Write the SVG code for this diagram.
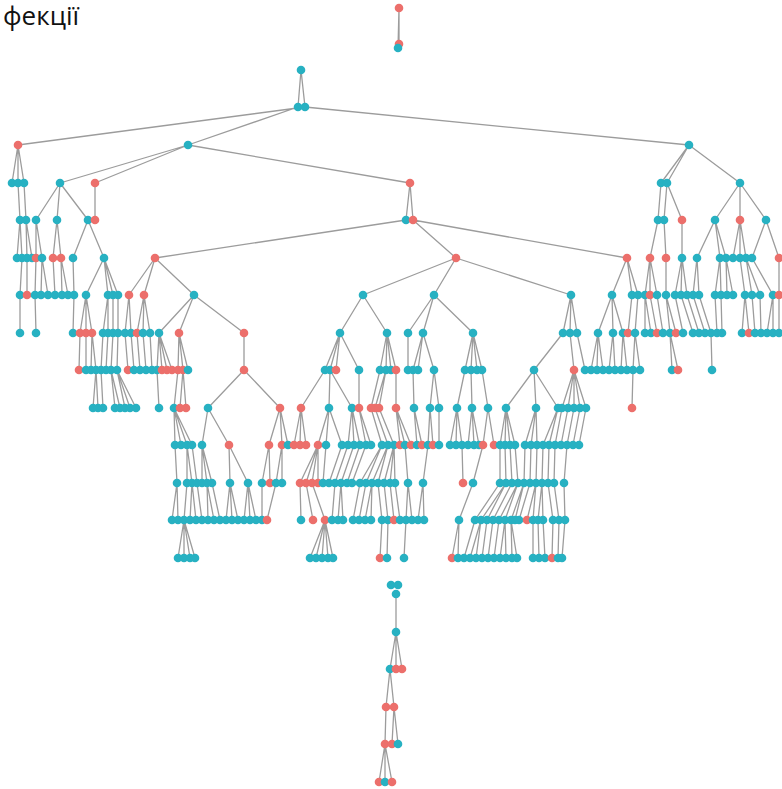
<svg xmlns="http://www.w3.org/2000/svg" width="782" height="789" viewBox="0 0 782 789">
<style>
.e path{stroke:#9c9c9c;stroke-width:1.3;fill:none}
.t{fill:#27b1c2}
.s{fill:#ec6f6b}
.title{font-family:"Open Sans","Noto Sans",sans-serif;font-size:26px;fill:#111}
</style>
<rect width="782" height="789" fill="#fff"/>
<text class="title" x="3" y="25">фекції</text>
<g class="e" id="connectors">
<path d="M399 8L399 44M399 8L398 48"/>
<path d="M301 70L298 107M301 70L305 107"/>
<path d="M305 107L18 145M298 107L188 145M305 107L689 145"/>
<path d="M18 145L12 183M18 145L18 183M18 145L24 183M188 145L60 183M188 145L95 183M188 145L410 183M689 145L661 183M689 145L667 183M689 145L740 183"/>
<path d="M18 183L20 220M24 183L26 220M60 183L36 220M60 183L57 220M60 183L88 220M95 183L95 220M410 183L406 220M410 183L413 220M661 183L658 220M667 183L664 220M667 183L682 220M740 183L715 220M740 183L740 220M740 183L766 220"/>
<path d="M20 220L17 258M20 220L22 258M26 220L27 258M26 220L32 258M36 220L36 258M36 220L42 258M57 220L53 258M57 220L61 258M88 220L73 258M88 220L104 258M406 220L155 258M413 220L456 258M413 220L627 258M658 220L650 258M664 220L666 258M682 220L682 258M715 220L697 258M715 220L720 258M715 220L726 258M740 220L733 258M740 220L740 258M740 220L746 258M766 220L752 258M766 220L779 258"/>
<path d="M22 258L20 295M27 258L27 295M36 258L35 295M42 258L41 295M42 258L48 295M53 258L55 295M61 258L62 295M61 258L68 295M73 258L74 295M104 258L86 295M104 258L108 295M104 258L113 295M104 258L118 295M155 258L129 295M155 258L144 295M155 258L194 295M456 258L363 295M456 258L434 295M456 258L571 295M627 258L612 295M627 258L632 295M627 258L638 295M650 258L645 295M650 258L650 295M650 258L657 295M666 258L666 295M682 258L675 295M682 258L681 295M682 258L687 295M697 258L693 295M697 258L699 295M720 258L715 295M720 258L721 295M726 258L727 295M726 258L733 295M740 258L745 295M746 258L752 295M746 258L760 295M752 258L773 295M779 258L779 295"/>
<path d="M20 295L20 333M35 295L36 333M74 295L73 333M86 295L80 333M86 295L86 333M86 295L92 333M108 295L103 333M108 295L108 333M113 295L113 333M118 295L118 333M129 295L125 333M129 295L131 333M144 295L137 333M144 295L143 333M144 295L150 333M194 295L159 333M194 295L179 333M194 295L244 333M363 295L340 333M363 295L387 333M434 295L408 333M434 295L423 333M434 295L473 333M571 295L563 333M571 295L570 333M571 295L577 333M612 295L598 333M612 295L613 333M612 295L623 333M632 295L628 333M638 295L635 333M645 295L645 333M645 295L651 333M650 295L657 333M657 295L663 333M666 295L670 333M666 295L676 333M675 295L683 333M681 295L693 333M687 295L699 333M693 295L705 333M699 295L711 333M715 295L717 333M721 295L722 333M745 295L742 333M745 295L749 333M752 295L755 333M760 295L761 333M773 295L767 333M773 295L773 333M779 295L779 333"/>
<path d="M80 333L79 370M86 333L86 370M92 333L91 370M92 333L96 370M103 333L101 370M108 333L106 370M113 333L111 370M118 333L117 370M125 333L128 370M131 333L134 370M137 333L140 370M143 333L146 370M150 333L152 370M159 333L157 370M159 333L162 370M159 333L167 370M159 333L172 370M179 333L178 370M179 333L183 370M179 333L188 370M244 333L244 370M340 333L325 370M340 333L330 370M340 333L336 370M340 333L359 370M387 333L380 370M387 333L386 370M387 333L391 370M387 333L396 370M408 333L408 370M423 333L413 370M423 333L418 370M423 333L434 370M473 333L465 370M473 333L471 370M473 333L477 370M473 333L482 370M563 333L534 370M570 333L574 370M577 333L585 370M598 333L591 370M598 333L597 370M598 333L603 370M613 333L609 370M613 333L615 370M623 333L621 370M623 333L627 370M635 333L633 370M635 333L640 370M670 333L672 370M670 333L678 370M711 333L712 370"/>
<path d="M96 370L93 408M96 370L98 408M101 370L103 408M111 370L115 408M111 370L120 408M117 370L125 408M117 370L130 408M117 370L136 408M157 370L159 408M178 370L174 408M183 370L180 408M183 370L186 408M244 370L208 408M244 370L280 408M325 370L301 408M330 370L329 408M330 370L352 408M359 370L359 408M380 370L371 408M386 370L375 408M386 370L379 408M396 370L396 408M413 370L414 408M434 370L430 408M434 370L439 408M465 370L457 408M471 370L472 408M482 370L488 408M534 370L506 408M534 370L536 408M534 370L558 408M574 370L562 408M574 370L568 408M574 370L574 408M574 370L580 408M574 370L586 408M633 370L632 408"/>
<path d="M174 408L175 445M174 408L181 445M174 408L187 445M174 408L192 445M208 408L202 445M208 408L229 445M280 408L269 445M280 408L282 445M280 408L288 445M301 408L294 445M301 408L300 445M301 408L306 445M329 408L318 445M329 408L326 445M329 408L342 445M352 408L348 445M352 408L354 445M352 408L360 445M359 408L366 445M359 408L371 445M371 408L382 445M375 408L388 445M379 408L394 445M396 408L400 445M396 408L405 445M396 408L411 445M414 408L417 445M414 408L422 445M430 408L428 445M430 408L433 445M439 408L439 445M457 408L450 445M457 408L456 445M457 408L462 445M472 408L468 445M472 408L474 445M472 408L479 445M488 408L483 445M488 408L494 445M506 408L500 445M506 408L505 445M506 408L510 445M506 408L515 445M536 408L525 445M536 408L531 445M536 408L537 445M558 408L543 445M558 408L549 445M562 408L555 445M568 408L561 445M574 408L567 445M580 408L573 445M586 408L579 445"/>
<path d="M175 445L177 483M187 445L187 483M187 445L192 483M192 445L197 483M202 445L202 483M202 445L207 483M202 445L212 483M229 445L230 483M229 445L248 483M269 445L262 483M269 445L270 483M282 445L276 483M282 445L282 483M318 445L300 483M318 445L306 483M318 445L312 483M318 445L318 483M326 445L323 483M342 445L329 483M348 445L335 483M354 445L341 483M360 445L347 483M366 445L352 483M382 445L360 483M382 445L366 483M388 445L372 483M388 445L378 483M394 445L384 483M394 445L390 483M394 445L395 483M405 445L408 483M428 445L423 483M462 445L463 483M483 445L473 483M500 445L500 483M505 445L506 483M510 445L512 483M515 445L518 483M525 445L524 483M531 445L530 483M537 445L536 483M543 445L542 483M549 445L548 483M555 445L554 483M567 445L564 483"/>
<path d="M177 483L172 520M177 483L178 520M187 483L184 520M192 483L190 520M192 483L196 520M197 483L202 520M207 483L208 520M207 483L214 520M212 483L220 520M230 483L226 520M230 483L232 520M230 483L238 520M248 483L244 520M248 483L250 520M248 483L256 520M262 483L262 520M276 483L267 520M300 483L301 520M306 483L313 520M312 483L325 520M335 483L332 520M341 483L338 520M341 483L343 520M360 483L353 520M366 483L359 520M372 483L365 520M372 483L371 520M378 483L382 520M384 483L388 520M390 483L394 520M395 483L400 520M408 483L406 520M408 483L412 520M423 483L418 520M423 483L424 520M473 483L459 520M500 483L475 520M506 483L481 520M506 483L487 520M512 483L493 520M518 483L499 520M518 483L505 520M524 483L511 520M524 483L515 520M530 483L519 520M536 483L527 520M536 483L533 520M542 483L538 520M542 483L543 520M548 483L553 520M554 483L559 520M564 483L565 520"/>
<path d="M184 520L178 558M184 520L184 558M184 520L190 558M184 520L195 558M325 520L310 558M325 520L316 558M325 520L322 558M325 520L328 558M325 520L333 558M382 520L380 558M388 520L387 558M406 520L404 558M459 520L452 558M459 520L458 558M475 520L464 558M481 520L470 558M481 520L476 558M487 520L482 558M493 520L488 558M499 520L494 558M505 520L500 558M505 520L506 558M511 520L512 558M511 520L517 558M533 520L533 558M538 520L539 558M543 520L545 558M553 520L552 558M559 520L558 558M565 520L562 558"/>
<path d="M396 594L396 632M396 632L390 669M396 632L396 669M396 632L402 669M390 669L386 707M390 669L394 707M386 707L385 744M394 707L392 744M394 707L398 744M385 744L379 782M385 744L385 782M385 744L392 782"/>
</g>
<g id="nodes">
<g id="n8-399"><circle class="s" cx="399" cy="8" r="4.3"/></g>
<g id="n44-399"><circle class="s" cx="399" cy="44" r="4.3"/></g>
<g id="n48-398"><circle class="t" cx="398" cy="48" r="4.3"/></g>
<g id="n70-301"><circle class="t" cx="301" cy="70" r="4.3"/></g>
<g id="n107-298"><circle class="t" cx="298" cy="107" r="4.3"/></g>
<g id="n107-305"><circle class="t" cx="305" cy="107" r="4.3"/></g>
<g id="n145-18"><circle class="s" cx="18" cy="145" r="4.3"/></g>
<g id="n145-188"><circle class="t" cx="188" cy="145" r="4.3"/></g>
<g id="n145-689"><circle class="t" cx="689" cy="145" r="4.3"/></g>
<g id="n183-12"><circle class="t" cx="12" cy="183" r="4.3"/></g>
<g id="n183-18"><circle class="t" cx="18" cy="183" r="4.3"/></g>
<g id="n183-24"><circle class="t" cx="24" cy="183" r="4.3"/></g>
<g id="n183-60"><circle class="t" cx="60" cy="183" r="4.3"/></g>
<g id="n183-95"><circle class="s" cx="95" cy="183" r="4.3"/></g>
<g id="n183-410"><circle class="s" cx="410" cy="183" r="4.3"/></g>
<g id="n183-661"><circle class="t" cx="661" cy="183" r="4.3"/></g>
<g id="n183-667"><circle class="t" cx="667" cy="183" r="4.3"/></g>
<g id="n183-740"><circle class="t" cx="740" cy="183" r="4.3"/></g>
<g id="n220-20"><circle class="t" cx="20" cy="220" r="4.3"/></g>
<g id="n220-26"><circle class="t" cx="26" cy="220" r="4.3"/></g>
<g id="n220-36"><circle class="t" cx="36" cy="220" r="4.3"/></g>
<g id="n220-57"><circle class="t" cx="57" cy="220" r="4.3"/></g>
<g id="n220-88"><circle class="t" cx="88" cy="220" r="4.3"/></g>
<g id="n220-95"><circle class="s" cx="95" cy="220" r="4.3"/></g>
<g id="n220-406"><circle class="t" cx="406" cy="220" r="4.3"/></g>
<g id="n220-413"><circle class="s" cx="413" cy="220" r="4.3"/></g>
<g id="n220-658"><circle class="t" cx="658" cy="220" r="4.3"/></g>
<g id="n220-664"><circle class="t" cx="664" cy="220" r="4.3"/></g>
<g id="n220-682"><circle class="s" cx="682" cy="220" r="4.3"/></g>
<g id="n220-715"><circle class="t" cx="715" cy="220" r="4.3"/></g>
<g id="n220-740"><circle class="s" cx="740" cy="220" r="4.3"/></g>
<g id="n220-766"><circle class="t" cx="766" cy="220" r="4.3"/></g>
<g id="n258-17"><circle class="t" cx="17" cy="258" r="4.3"/></g>
<g id="n258-22"><circle class="t" cx="22" cy="258" r="4.3"/></g>
<g id="n258-27"><circle class="t" cx="27" cy="258" r="4.3"/></g>
<g id="n258-32"><circle class="t" cx="32" cy="258" r="4.3"/></g>
<g id="n258-36"><circle class="s" cx="36" cy="258" r="4.3"/></g>
<g id="n258-42"><circle class="t" cx="42" cy="258" r="4.3"/></g>
<g id="n258-53"><circle class="s" cx="53" cy="258" r="4.3"/></g>
<g id="n258-61"><circle class="s" cx="61" cy="258" r="4.3"/></g>
<g id="n258-73"><circle class="t" cx="73" cy="258" r="4.3"/></g>
<g id="n258-104"><circle class="t" cx="104" cy="258" r="4.3"/></g>
<g id="n258-155"><circle class="s" cx="155" cy="258" r="4.3"/></g>
<g id="n258-456"><circle class="s" cx="456" cy="258" r="4.3"/></g>
<g id="n258-627"><circle class="s" cx="627" cy="258" r="4.3"/></g>
<g id="n258-650"><circle class="s" cx="650" cy="258" r="4.3"/></g>
<g id="n258-666"><circle class="s" cx="666" cy="258" r="4.3"/></g>
<g id="n258-682"><circle class="t" cx="682" cy="258" r="4.3"/></g>
<g id="n258-697"><circle class="t" cx="697" cy="258" r="4.3"/></g>
<g id="n258-720"><circle class="t" cx="720" cy="258" r="4.3"/></g>
<g id="n258-726"><circle class="t" cx="726" cy="258" r="4.3"/></g>
<g id="n258-733"><circle class="t" cx="733" cy="258" r="4.3"/></g>
<g id="n258-740"><circle class="t" cx="740" cy="258" r="4.3"/></g>
<g id="n258-746"><circle class="t" cx="746" cy="258" r="4.3"/></g>
<g id="n258-752"><circle class="t" cx="752" cy="258" r="4.3"/></g>
<g id="n258-779"><circle class="s" cx="779" cy="258" r="4.3"/></g>
<g id="n295-20"><circle class="t" cx="20" cy="295" r="4.3"/></g>
<g id="n295-27"><circle class="s" cx="27" cy="295" r="4.3"/></g>
<g id="n295-35"><circle class="t" cx="35" cy="295" r="4.3"/></g>
<g id="n295-41"><circle class="t" cx="41" cy="295" r="4.3"/></g>
<g id="n295-48"><circle class="t" cx="48" cy="295" r="4.3"/></g>
<g id="n295-55"><circle class="t" cx="55" cy="295" r="4.3"/></g>
<g id="n295-62"><circle class="t" cx="62" cy="295" r="4.3"/></g>
<g id="n295-68"><circle class="t" cx="68" cy="295" r="4.3"/></g>
<g id="n295-74"><circle class="t" cx="74" cy="295" r="4.3"/></g>
<g id="n295-86"><circle class="t" cx="86" cy="295" r="4.3"/></g>
<g id="n295-108"><circle class="t" cx="108" cy="295" r="4.3"/></g>
<g id="n295-113"><circle class="t" cx="113" cy="295" r="4.3"/></g>
<g id="n295-118"><circle class="t" cx="118" cy="295" r="4.3"/></g>
<g id="n295-129"><circle class="s" cx="129" cy="295" r="4.3"/></g>
<g id="n295-144"><circle class="s" cx="144" cy="295" r="4.3"/></g>
<g id="n295-194"><circle class="t" cx="194" cy="295" r="4.3"/></g>
<g id="n295-363"><circle class="t" cx="363" cy="295" r="4.3"/></g>
<g id="n295-434"><circle class="t" cx="434" cy="295" r="4.3"/></g>
<g id="n295-571"><circle class="t" cx="571" cy="295" r="4.3"/></g>
<g id="n295-612"><circle class="t" cx="612" cy="295" r="4.3"/></g>
<g id="n295-632"><circle class="t" cx="632" cy="295" r="4.3"/></g>
<g id="n295-638"><circle class="t" cx="638" cy="295" r="4.3"/></g>
<g id="n295-645"><circle class="t" cx="645" cy="295" r="4.3"/></g>
<g id="n295-650"><circle class="s" cx="650" cy="295" r="4.3"/></g>
<g id="n295-657"><circle class="t" cx="657" cy="295" r="4.3"/></g>
<g id="n295-666"><circle class="t" cx="666" cy="295" r="4.3"/></g>
<g id="n295-675"><circle class="t" cx="675" cy="295" r="4.3"/></g>
<g id="n295-681"><circle class="t" cx="681" cy="295" r="4.3"/></g>
<g id="n295-687"><circle class="t" cx="687" cy="295" r="4.3"/></g>
<g id="n295-693"><circle class="t" cx="693" cy="295" r="4.3"/></g>
<g id="n295-699"><circle class="t" cx="699" cy="295" r="4.3"/></g>
<g id="n295-715"><circle class="t" cx="715" cy="295" r="4.3"/></g>
<g id="n295-721"><circle class="t" cx="721" cy="295" r="4.3"/></g>
<g id="n295-727"><circle class="t" cx="727" cy="295" r="4.3"/></g>
<g id="n295-733"><circle class="t" cx="733" cy="295" r="4.3"/></g>
<g id="n295-745"><circle class="t" cx="745" cy="295" r="4.3"/></g>
<g id="n295-752"><circle class="t" cx="752" cy="295" r="4.3"/></g>
<g id="n295-760"><circle class="t" cx="760" cy="295" r="4.3"/></g>
<g id="n295-773"><circle class="t" cx="773" cy="295" r="4.3"/></g>
<g id="n295-779"><circle class="s" cx="779" cy="295" r="4.3"/></g>
<g id="n333-20"><circle class="t" cx="20" cy="333" r="4.3"/></g>
<g id="n333-36"><circle class="t" cx="36" cy="333" r="4.3"/></g>
<g id="n333-73"><circle class="t" cx="73" cy="333" r="4.3"/></g>
<g id="n333-80"><circle class="s" cx="80" cy="333" r="4.3"/></g>
<g id="n333-86"><circle class="s" cx="86" cy="333" r="4.3"/></g>
<g id="n333-92"><circle class="s" cx="92" cy="333" r="4.3"/></g>
<g id="n333-103"><circle class="t" cx="103" cy="333" r="4.3"/></g>
<g id="n333-108"><circle class="t" cx="108" cy="333" r="4.3"/></g>
<g id="n333-113"><circle class="t" cx="113" cy="333" r="4.3"/></g>
<g id="n333-118"><circle class="t" cx="118" cy="333" r="4.3"/></g>
<g id="n333-125"><circle class="t" cx="125" cy="333" r="4.3"/></g>
<g id="n333-131"><circle class="t" cx="131" cy="333" r="4.3"/></g>
<g id="n333-137"><circle class="s" cx="137" cy="333" r="4.3"/></g>
<g id="n333-143"><circle class="t" cx="143" cy="333" r="4.3"/></g>
<g id="n333-150"><circle class="t" cx="150" cy="333" r="4.3"/></g>
<g id="n333-159"><circle class="t" cx="159" cy="333" r="4.3"/></g>
<g id="n333-179"><circle class="s" cx="179" cy="333" r="4.3"/></g>
<g id="n333-244"><circle class="s" cx="244" cy="333" r="4.3"/></g>
<g id="n333-340"><circle class="t" cx="340" cy="333" r="4.3"/></g>
<g id="n333-387"><circle class="t" cx="387" cy="333" r="4.3"/></g>
<g id="n333-408"><circle class="t" cx="408" cy="333" r="4.3"/></g>
<g id="n333-423"><circle class="t" cx="423" cy="333" r="4.3"/></g>
<g id="n333-473"><circle class="t" cx="473" cy="333" r="4.3"/></g>
<g id="n333-563"><circle class="t" cx="563" cy="333" r="4.3"/></g>
<g id="n333-570"><circle class="t" cx="570" cy="333" r="4.3"/></g>
<g id="n333-577"><circle class="t" cx="577" cy="333" r="4.3"/></g>
<g id="n333-598"><circle class="t" cx="598" cy="333" r="4.3"/></g>
<g id="n333-613"><circle class="t" cx="613" cy="333" r="4.3"/></g>
<g id="n333-623"><circle class="t" cx="623" cy="333" r="4.3"/></g>
<g id="n333-628"><circle class="s" cx="628" cy="333" r="4.3"/></g>
<g id="n333-635"><circle class="t" cx="635" cy="333" r="4.3"/></g>
<g id="n333-645"><circle class="t" cx="645" cy="333" r="4.3"/></g>
<g id="n333-651"><circle class="t" cx="651" cy="333" r="4.3"/></g>
<g id="n333-657"><circle class="s" cx="657" cy="333" r="4.3"/></g>
<g id="n333-663"><circle class="t" cx="663" cy="333" r="4.3"/></g>
<g id="n333-670"><circle class="t" cx="670" cy="333" r="4.3"/></g>
<g id="n333-676"><circle class="s" cx="676" cy="333" r="4.3"/></g>
<g id="n333-683"><circle class="t" cx="683" cy="333" r="4.3"/></g>
<g id="n333-693"><circle class="t" cx="693" cy="333" r="4.3"/></g>
<g id="n333-699"><circle class="t" cx="699" cy="333" r="4.3"/></g>
<g id="n333-705"><circle class="t" cx="705" cy="333" r="4.3"/></g>
<g id="n333-711"><circle class="t" cx="711" cy="333" r="4.3"/></g>
<g id="n333-717"><circle class="t" cx="717" cy="333" r="4.3"/></g>
<g id="n333-722"><circle class="t" cx="722" cy="333" r="4.3"/></g>
<g id="n333-742"><circle class="t" cx="742" cy="333" r="4.3"/></g>
<g id="n333-749"><circle class="s" cx="749" cy="333" r="4.3"/></g>
<g id="n333-755"><circle class="t" cx="755" cy="333" r="4.3"/></g>
<g id="n333-761"><circle class="t" cx="761" cy="333" r="4.3"/></g>
<g id="n333-767"><circle class="t" cx="767" cy="333" r="4.3"/></g>
<g id="n333-773"><circle class="t" cx="773" cy="333" r="4.3"/></g>
<g id="n333-779"><circle class="t" cx="779" cy="333" r="4.3"/></g>
<g id="n370-79"><circle class="s" cx="79" cy="370" r="4.3"/></g>
<g id="n370-86"><circle class="t" cx="86" cy="370" r="4.3"/></g>
<g id="n370-91"><circle class="t" cx="91" cy="370" r="4.3"/></g>
<g id="n370-96"><circle class="t" cx="96" cy="370" r="4.3"/></g>
<g id="n370-101"><circle class="t" cx="101" cy="370" r="4.3"/></g>
<g id="n370-106"><circle class="t" cx="106" cy="370" r="4.3"/></g>
<g id="n370-111"><circle class="t" cx="111" cy="370" r="4.3"/></g>
<g id="n370-117"><circle class="t" cx="117" cy="370" r="4.3"/></g>
<g id="n370-128"><circle class="s" cx="128" cy="370" r="4.3"/></g>
<g id="n370-134"><circle class="t" cx="134" cy="370" r="4.3"/></g>
<g id="n370-140"><circle class="t" cx="140" cy="370" r="4.3"/></g>
<g id="n370-146"><circle class="t" cx="146" cy="370" r="4.3"/></g>
<g id="n370-152"><circle class="t" cx="152" cy="370" r="4.3"/></g>
<g id="n370-157"><circle class="t" cx="157" cy="370" r="4.3"/></g>
<g id="n370-162"><circle class="s" cx="162" cy="370" r="4.3"/></g>
<g id="n370-167"><circle class="s" cx="167" cy="370" r="4.3"/></g>
<g id="n370-172"><circle class="s" cx="172" cy="370" r="4.3"/></g>
<g id="n370-178"><circle class="s" cx="178" cy="370" r="4.3"/></g>
<g id="n370-183"><circle class="s" cx="183" cy="370" r="4.3"/></g>
<g id="n370-188"><circle class="t" cx="188" cy="370" r="4.3"/></g>
<g id="n370-244"><circle class="s" cx="244" cy="370" r="4.3"/></g>
<g id="n370-325"><circle class="t" cx="325" cy="370" r="4.3"/></g>
<g id="n370-330"><circle class="t" cx="330" cy="370" r="4.3"/></g>
<g id="n370-336"><circle class="s" cx="336" cy="370" r="4.3"/></g>
<g id="n370-359"><circle class="t" cx="359" cy="370" r="4.3"/></g>
<g id="n370-380"><circle class="t" cx="380" cy="370" r="4.3"/></g>
<g id="n370-386"><circle class="t" cx="386" cy="370" r="4.3"/></g>
<g id="n370-391"><circle class="t" cx="391" cy="370" r="4.3"/></g>
<g id="n370-396"><circle class="s" cx="396" cy="370" r="4.3"/></g>
<g id="n370-408"><circle class="t" cx="408" cy="370" r="4.3"/></g>
<g id="n370-413"><circle class="t" cx="413" cy="370" r="4.3"/></g>
<g id="n370-418"><circle class="t" cx="418" cy="370" r="4.3"/></g>
<g id="n370-434"><circle class="t" cx="434" cy="370" r="4.3"/></g>
<g id="n370-465"><circle class="t" cx="465" cy="370" r="4.3"/></g>
<g id="n370-471"><circle class="t" cx="471" cy="370" r="4.3"/></g>
<g id="n370-477"><circle class="t" cx="477" cy="370" r="4.3"/></g>
<g id="n370-482"><circle class="t" cx="482" cy="370" r="4.3"/></g>
<g id="n370-534"><circle class="t" cx="534" cy="370" r="4.3"/></g>
<g id="n370-574"><circle class="s" cx="574" cy="370" r="4.3"/></g>
<g id="n370-585"><circle class="t" cx="585" cy="370" r="4.3"/></g>
<g id="n370-591"><circle class="t" cx="591" cy="370" r="4.3"/></g>
<g id="n370-597"><circle class="t" cx="597" cy="370" r="4.3"/></g>
<g id="n370-603"><circle class="t" cx="603" cy="370" r="4.3"/></g>
<g id="n370-609"><circle class="t" cx="609" cy="370" r="4.3"/></g>
<g id="n370-615"><circle class="t" cx="615" cy="370" r="4.3"/></g>
<g id="n370-621"><circle class="t" cx="621" cy="370" r="4.3"/></g>
<g id="n370-627"><circle class="t" cx="627" cy="370" r="4.3"/></g>
<g id="n370-633"><circle class="t" cx="633" cy="370" r="4.3"/></g>
<g id="n370-640"><circle class="t" cx="640" cy="370" r="4.3"/></g>
<g id="n370-672"><circle class="t" cx="672" cy="370" r="4.3"/></g>
<g id="n370-678"><circle class="s" cx="678" cy="370" r="4.3"/></g>
<g id="n370-712"><circle class="t" cx="712" cy="370" r="4.3"/></g>
<g id="n408-93"><circle class="t" cx="93" cy="408" r="4.3"/></g>
<g id="n408-98"><circle class="t" cx="98" cy="408" r="4.3"/></g>
<g id="n408-103"><circle class="t" cx="103" cy="408" r="4.3"/></g>
<g id="n408-115"><circle class="t" cx="115" cy="408" r="4.3"/></g>
<g id="n408-120"><circle class="t" cx="120" cy="408" r="4.3"/></g>
<g id="n408-125"><circle class="t" cx="125" cy="408" r="4.3"/></g>
<g id="n408-130"><circle class="t" cx="130" cy="408" r="4.3"/></g>
<g id="n408-136"><circle class="t" cx="136" cy="408" r="4.3"/></g>
<g id="n408-159"><circle class="t" cx="159" cy="408" r="4.3"/></g>
<g id="n408-174"><circle class="t" cx="174" cy="408" r="4.3"/></g>
<g id="n408-180"><circle class="s" cx="180" cy="408" r="4.3"/></g>
<g id="n408-186"><circle class="s" cx="186" cy="408" r="4.3"/></g>
<g id="n408-208"><circle class="t" cx="208" cy="408" r="4.3"/></g>
<g id="n408-280"><circle class="s" cx="280" cy="408" r="4.3"/></g>
<g id="n408-301"><circle class="s" cx="301" cy="408" r="4.3"/></g>
<g id="n408-329"><circle class="t" cx="329" cy="408" r="4.3"/></g>
<g id="n408-352"><circle class="t" cx="352" cy="408" r="4.3"/></g>
<g id="n408-359"><circle class="s" cx="359" cy="408" r="4.3"/></g>
<g id="n408-371"><circle class="s" cx="371" cy="408" r="4.3"/></g>
<g id="n408-375"><circle class="s" cx="375" cy="408" r="4.3"/></g>
<g id="n408-379"><circle class="s" cx="379" cy="408" r="4.3"/></g>
<g id="n408-396"><circle class="s" cx="396" cy="408" r="4.3"/></g>
<g id="n408-414"><circle class="t" cx="414" cy="408" r="4.3"/></g>
<g id="n408-430"><circle class="t" cx="430" cy="408" r="4.3"/></g>
<g id="n408-439"><circle class="t" cx="439" cy="408" r="4.3"/></g>
<g id="n408-457"><circle class="t" cx="457" cy="408" r="4.3"/></g>
<g id="n408-472"><circle class="t" cx="472" cy="408" r="4.3"/></g>
<g id="n408-488"><circle class="t" cx="488" cy="408" r="4.3"/></g>
<g id="n408-506"><circle class="t" cx="506" cy="408" r="4.3"/></g>
<g id="n408-536"><circle class="t" cx="536" cy="408" r="4.3"/></g>
<g id="n408-558"><circle class="t" cx="558" cy="408" r="4.3"/></g>
<g id="n408-562"><circle class="t" cx="562" cy="408" r="4.3"/></g>
<g id="n408-568"><circle class="t" cx="568" cy="408" r="4.3"/></g>
<g id="n408-574"><circle class="t" cx="574" cy="408" r="4.3"/></g>
<g id="n408-580"><circle class="t" cx="580" cy="408" r="4.3"/></g>
<g id="n408-586"><circle class="t" cx="586" cy="408" r="4.3"/></g>
<g id="n408-632"><circle class="s" cx="632" cy="408" r="4.3"/></g>
<g id="n445-175"><circle class="t" cx="175" cy="445" r="4.3"/></g>
<g id="n445-181"><circle class="t" cx="181" cy="445" r="4.3"/></g>
<g id="n445-187"><circle class="t" cx="187" cy="445" r="4.3"/></g>
<g id="n445-192"><circle class="t" cx="192" cy="445" r="4.3"/></g>
<g id="n445-202"><circle class="t" cx="202" cy="445" r="4.3"/></g>
<g id="n445-229"><circle class="s" cx="229" cy="445" r="4.3"/></g>
<g id="n445-269"><circle class="s" cx="269" cy="445" r="4.3"/></g>
<g id="n445-282"><circle class="s" cx="282" cy="445" r="4.3"/></g>
<g id="n445-288"><circle class="t" cx="288" cy="445" r="4.3"/></g>
<g id="n445-294"><circle class="s" cx="294" cy="445" r="4.3"/></g>
<g id="n445-300"><circle class="s" cx="300" cy="445" r="4.3"/></g>
<g id="n445-306"><circle class="s" cx="306" cy="445" r="4.3"/></g>
<g id="n445-318"><circle class="s" cx="318" cy="445" r="4.3"/></g>
<g id="n445-326"><circle class="t" cx="326" cy="445" r="4.3"/></g>
<g id="n445-342"><circle class="t" cx="342" cy="445" r="4.3"/></g>
<g id="n445-348"><circle class="t" cx="348" cy="445" r="4.3"/></g>
<g id="n445-354"><circle class="t" cx="354" cy="445" r="4.3"/></g>
<g id="n445-360"><circle class="t" cx="360" cy="445" r="4.3"/></g>
<g id="n445-366"><circle class="t" cx="366" cy="445" r="4.3"/></g>
<g id="n445-371"><circle class="t" cx="371" cy="445" r="4.3"/></g>
<g id="n445-382"><circle class="t" cx="382" cy="445" r="4.3"/></g>
<g id="n445-388"><circle class="t" cx="388" cy="445" r="4.3"/></g>
<g id="n445-394"><circle class="t" cx="394" cy="445" r="4.3"/></g>
<g id="n445-400"><circle class="s" cx="400" cy="445" r="4.3"/></g>
<g id="n445-405"><circle class="t" cx="405" cy="445" r="4.3"/></g>
<g id="n445-411"><circle class="s" cx="411" cy="445" r="4.3"/></g>
<g id="n445-417"><circle class="t" cx="417" cy="445" r="4.3"/></g>
<g id="n445-422"><circle class="s" cx="422" cy="445" r="4.3"/></g>
<g id="n445-428"><circle class="t" cx="428" cy="445" r="4.3"/></g>
<g id="n445-433"><circle class="s" cx="433" cy="445" r="4.3"/></g>
<g id="n445-439"><circle class="t" cx="439" cy="445" r="4.3"/></g>
<g id="n445-450"><circle class="t" cx="450" cy="445" r="4.3"/></g>
<g id="n445-456"><circle class="t" cx="456" cy="445" r="4.3"/></g>
<g id="n445-462"><circle class="t" cx="462" cy="445" r="4.3"/></g>
<g id="n445-468"><circle class="t" cx="468" cy="445" r="4.3"/></g>
<g id="n445-474"><circle class="t" cx="474" cy="445" r="4.3"/></g>
<g id="n445-479"><circle class="t" cx="479" cy="445" r="4.3"/></g>
<g id="n445-483"><circle class="s" cx="483" cy="445" r="4.3"/></g>
<g id="n445-494"><circle class="s" cx="494" cy="445" r="4.3"/></g>
<g id="n445-500"><circle class="t" cx="500" cy="445" r="4.3"/></g>
<g id="n445-505"><circle class="t" cx="505" cy="445" r="4.3"/></g>
<g id="n445-510"><circle class="t" cx="510" cy="445" r="4.3"/></g>
<g id="n445-515"><circle class="t" cx="515" cy="445" r="4.3"/></g>
<g id="n445-525"><circle class="t" cx="525" cy="445" r="4.3"/></g>
<g id="n445-531"><circle class="t" cx="531" cy="445" r="4.3"/></g>
<g id="n445-537"><circle class="t" cx="537" cy="445" r="4.3"/></g>
<g id="n445-543"><circle class="t" cx="543" cy="445" r="4.3"/></g>
<g id="n445-549"><circle class="t" cx="549" cy="445" r="4.3"/></g>
<g id="n445-555"><circle class="t" cx="555" cy="445" r="4.3"/></g>
<g id="n445-561"><circle class="t" cx="561" cy="445" r="4.3"/></g>
<g id="n445-567"><circle class="t" cx="567" cy="445" r="4.3"/></g>
<g id="n445-573"><circle class="t" cx="573" cy="445" r="4.3"/></g>
<g id="n445-579"><circle class="t" cx="579" cy="445" r="4.3"/></g>
<g id="n483-177"><circle class="t" cx="177" cy="483" r="4.3"/></g>
<g id="n483-187"><circle class="t" cx="187" cy="483" r="4.3"/></g>
<g id="n483-192"><circle class="t" cx="192" cy="483" r="4.3"/></g>
<g id="n483-197"><circle class="t" cx="197" cy="483" r="4.3"/></g>
<g id="n483-202"><circle class="t" cx="202" cy="483" r="4.3"/></g>
<g id="n483-207"><circle class="t" cx="207" cy="483" r="4.3"/></g>
<g id="n483-212"><circle class="t" cx="212" cy="483" r="4.3"/></g>
<g id="n483-230"><circle class="t" cx="230" cy="483" r="4.3"/></g>
<g id="n483-248"><circle class="t" cx="248" cy="483" r="4.3"/></g>
<g id="n483-262"><circle class="t" cx="262" cy="483" r="4.3"/></g>
<g id="n483-270"><circle class="s" cx="270" cy="483" r="4.3"/></g>
<g id="n483-276"><circle class="t" cx="276" cy="483" r="4.3"/></g>
<g id="n483-282"><circle class="t" cx="282" cy="483" r="4.3"/></g>
<g id="n483-300"><circle class="s" cx="300" cy="483" r="4.3"/></g>
<g id="n483-306"><circle class="s" cx="306" cy="483" r="4.3"/></g>
<g id="n483-312"><circle class="s" cx="312" cy="483" r="4.3"/></g>
<g id="n483-318"><circle class="s" cx="318" cy="483" r="4.3"/></g>
<g id="n483-323"><circle class="t" cx="323" cy="483" r="4.3"/></g>
<g id="n483-329"><circle class="t" cx="329" cy="483" r="4.3"/></g>
<g id="n483-335"><circle class="t" cx="335" cy="483" r="4.3"/></g>
<g id="n483-341"><circle class="t" cx="341" cy="483" r="4.3"/></g>
<g id="n483-347"><circle class="t" cx="347" cy="483" r="4.3"/></g>
<g id="n483-352"><circle class="t" cx="352" cy="483" r="4.3"/></g>
<g id="n483-360"><circle class="t" cx="360" cy="483" r="4.3"/></g>
<g id="n483-366"><circle class="t" cx="366" cy="483" r="4.3"/></g>
<g id="n483-372"><circle class="t" cx="372" cy="483" r="4.3"/></g>
<g id="n483-378"><circle class="t" cx="378" cy="483" r="4.3"/></g>
<g id="n483-384"><circle class="t" cx="384" cy="483" r="4.3"/></g>
<g id="n483-390"><circle class="t" cx="390" cy="483" r="4.3"/></g>
<g id="n483-395"><circle class="t" cx="395" cy="483" r="4.3"/></g>
<g id="n483-408"><circle class="t" cx="408" cy="483" r="4.3"/></g>
<g id="n483-423"><circle class="t" cx="423" cy="483" r="4.3"/></g>
<g id="n483-463"><circle class="s" cx="463" cy="483" r="4.3"/></g>
<g id="n483-473"><circle class="t" cx="473" cy="483" r="4.3"/></g>
<g id="n483-500"><circle class="t" cx="500" cy="483" r="4.3"/></g>
<g id="n483-506"><circle class="t" cx="506" cy="483" r="4.3"/></g>
<g id="n483-512"><circle class="t" cx="512" cy="483" r="4.3"/></g>
<g id="n483-518"><circle class="t" cx="518" cy="483" r="4.3"/></g>
<g id="n483-524"><circle class="t" cx="524" cy="483" r="4.3"/></g>
<g id="n483-530"><circle class="t" cx="530" cy="483" r="4.3"/></g>
<g id="n483-536"><circle class="t" cx="536" cy="483" r="4.3"/></g>
<g id="n483-542"><circle class="t" cx="542" cy="483" r="4.3"/></g>
<g id="n483-548"><circle class="t" cx="548" cy="483" r="4.3"/></g>
<g id="n483-554"><circle class="t" cx="554" cy="483" r="4.3"/></g>
<g id="n483-564"><circle class="t" cx="564" cy="483" r="4.3"/></g>
<g id="n520-172"><circle class="t" cx="172" cy="520" r="4.3"/></g>
<g id="n520-178"><circle class="t" cx="178" cy="520" r="4.3"/></g>
<g id="n520-184"><circle class="t" cx="184" cy="520" r="4.3"/></g>
<g id="n520-190"><circle class="t" cx="190" cy="520" r="4.3"/></g>
<g id="n520-196"><circle class="t" cx="196" cy="520" r="4.3"/></g>
<g id="n520-202"><circle class="t" cx="202" cy="520" r="4.3"/></g>
<g id="n520-208"><circle class="t" cx="208" cy="520" r="4.3"/></g>
<g id="n520-214"><circle class="t" cx="214" cy="520" r="4.3"/></g>
<g id="n520-220"><circle class="t" cx="220" cy="520" r="4.3"/></g>
<g id="n520-226"><circle class="t" cx="226" cy="520" r="4.3"/></g>
<g id="n520-232"><circle class="t" cx="232" cy="520" r="4.3"/></g>
<g id="n520-238"><circle class="t" cx="238" cy="520" r="4.3"/></g>
<g id="n520-244"><circle class="t" cx="244" cy="520" r="4.3"/></g>
<g id="n520-250"><circle class="t" cx="250" cy="520" r="4.3"/></g>
<g id="n520-256"><circle class="t" cx="256" cy="520" r="4.3"/></g>
<g id="n520-262"><circle class="t" cx="262" cy="520" r="4.3"/></g>
<g id="n520-267"><circle class="s" cx="267" cy="520" r="4.3"/></g>
<g id="n520-301"><circle class="t" cx="301" cy="520" r="4.3"/></g>
<g id="n520-313"><circle class="s" cx="313" cy="520" r="4.3"/></g>
<g id="n520-325"><circle class="s" cx="325" cy="520" r="4.3"/></g>
<g id="n520-332"><circle class="t" cx="332" cy="520" r="4.3"/></g>
<g id="n520-338"><circle class="t" cx="338" cy="520" r="4.3"/></g>
<g id="n520-343"><circle class="t" cx="343" cy="520" r="4.3"/></g>
<g id="n520-353"><circle class="t" cx="353" cy="520" r="4.3"/></g>
<g id="n520-359"><circle class="t" cx="359" cy="520" r="4.3"/></g>
<g id="n520-365"><circle class="t" cx="365" cy="520" r="4.3"/></g>
<g id="n520-371"><circle class="t" cx="371" cy="520" r="4.3"/></g>
<g id="n520-382"><circle class="t" cx="382" cy="520" r="4.3"/></g>
<g id="n520-388"><circle class="t" cx="388" cy="520" r="4.3"/></g>
<g id="n520-394"><circle class="s" cx="394" cy="520" r="4.3"/></g>
<g id="n520-400"><circle class="t" cx="400" cy="520" r="4.3"/></g>
<g id="n520-406"><circle class="t" cx="406" cy="520" r="4.3"/></g>
<g id="n520-412"><circle class="t" cx="412" cy="520" r="4.3"/></g>
<g id="n520-418"><circle class="t" cx="418" cy="520" r="4.3"/></g>
<g id="n520-424"><circle class="t" cx="424" cy="520" r="4.3"/></g>
<g id="n520-459"><circle class="t" cx="459" cy="520" r="4.3"/></g>
<g id="n520-475"><circle class="t" cx="475" cy="520" r="4.3"/></g>
<g id="n520-481"><circle class="t" cx="481" cy="520" r="4.3"/></g>
<g id="n520-487"><circle class="t" cx="487" cy="520" r="4.3"/></g>
<g id="n520-493"><circle class="t" cx="493" cy="520" r="4.3"/></g>
<g id="n520-499"><circle class="t" cx="499" cy="520" r="4.3"/></g>
<g id="n520-505"><circle class="t" cx="505" cy="520" r="4.3"/></g>
<g id="n520-511"><circle class="t" cx="511" cy="520" r="4.3"/></g>
<g id="n520-515"><circle class="t" cx="515" cy="520" r="4.3"/></g>
<g id="n520-519"><circle class="t" cx="519" cy="520" r="4.3"/></g>
<g id="n520-527"><circle class="s" cx="527" cy="520" r="4.3"/></g>
<g id="n520-533"><circle class="t" cx="533" cy="520" r="4.3"/></g>
<g id="n520-538"><circle class="t" cx="538" cy="520" r="4.3"/></g>
<g id="n520-543"><circle class="t" cx="543" cy="520" r="4.3"/></g>
<g id="n520-553"><circle class="t" cx="553" cy="520" r="4.3"/></g>
<g id="n520-559"><circle class="t" cx="559" cy="520" r="4.3"/></g>
<g id="n520-565"><circle class="t" cx="565" cy="520" r="4.3"/></g>
<g id="n558-178"><circle class="t" cx="178" cy="558" r="4.3"/></g>
<g id="n558-184"><circle class="t" cx="184" cy="558" r="4.3"/></g>
<g id="n558-190"><circle class="t" cx="190" cy="558" r="4.3"/></g>
<g id="n558-195"><circle class="t" cx="195" cy="558" r="4.3"/></g>
<g id="n558-310"><circle class="t" cx="310" cy="558" r="4.3"/></g>
<g id="n558-316"><circle class="t" cx="316" cy="558" r="4.3"/></g>
<g id="n558-322"><circle class="t" cx="322" cy="558" r="4.3"/></g>
<g id="n558-328"><circle class="t" cx="328" cy="558" r="4.3"/></g>
<g id="n558-333"><circle class="t" cx="333" cy="558" r="4.3"/></g>
<g id="n558-380"><circle class="s" cx="380" cy="558" r="4.3"/></g>
<g id="n558-387"><circle class="t" cx="387" cy="558" r="4.3"/></g>
<g id="n558-404"><circle class="t" cx="404" cy="558" r="4.3"/></g>
<g id="n558-452"><circle class="s" cx="452" cy="558" r="4.3"/></g>
<g id="n558-458"><circle class="t" cx="458" cy="558" r="4.3"/></g>
<g id="n558-464"><circle class="t" cx="464" cy="558" r="4.3"/></g>
<g id="n558-470"><circle class="t" cx="470" cy="558" r="4.3"/></g>
<g id="n558-476"><circle class="t" cx="476" cy="558" r="4.3"/></g>
<g id="n558-482"><circle class="t" cx="482" cy="558" r="4.3"/></g>
<g id="n558-488"><circle class="t" cx="488" cy="558" r="4.3"/></g>
<g id="n558-494"><circle class="t" cx="494" cy="558" r="4.3"/></g>
<g id="n558-500"><circle class="t" cx="500" cy="558" r="4.3"/></g>
<g id="n558-506"><circle class="t" cx="506" cy="558" r="4.3"/></g>
<g id="n558-512"><circle class="t" cx="512" cy="558" r="4.3"/></g>
<g id="n558-517"><circle class="t" cx="517" cy="558" r="4.3"/></g>
<g id="n558-533"><circle class="t" cx="533" cy="558" r="4.3"/></g>
<g id="n558-539"><circle class="t" cx="539" cy="558" r="4.3"/></g>
<g id="n558-545"><circle class="t" cx="545" cy="558" r="4.3"/></g>
<g id="n558-552"><circle class="s" cx="552" cy="558" r="4.3"/></g>
<g id="n558-558"><circle class="t" cx="558" cy="558" r="4.3"/></g>
<g id="n558-562"><circle class="t" cx="562" cy="558" r="4.3"/></g>
<g id="n585-391"><circle class="t" cx="391" cy="585" r="4.3"/></g>
<g id="n585-398"><circle class="t" cx="398" cy="585" r="4.3"/></g>
<g id="n594-396"><circle class="t" cx="396" cy="594" r="4.3"/></g>
<g id="n632-396"><circle class="t" cx="396" cy="632" r="4.3"/></g>
<g id="n669-390"><circle class="t" cx="390" cy="669" r="4.3"/></g>
<g id="n669-396"><circle class="s" cx="396" cy="669" r="4.3"/></g>
<g id="n669-402"><circle class="s" cx="402" cy="669" r="4.3"/></g>
<g id="n707-386"><circle class="s" cx="386" cy="707" r="4.3"/></g>
<g id="n707-394"><circle class="s" cx="394" cy="707" r="4.3"/></g>
<g id="n744-385"><circle class="s" cx="385" cy="744" r="4.3"/></g>
<g id="n744-392"><circle class="s" cx="392" cy="744" r="4.3"/></g>
<g id="n744-398"><circle class="t" cx="398" cy="744" r="4.3"/></g>
<g id="n782-379"><circle class="s" cx="379" cy="782" r="4.3"/></g>
<g id="n782-385"><circle class="t" cx="385" cy="782" r="4.3"/></g>
<g id="n782-392"><circle class="s" cx="392" cy="782" r="4.3"/></g>
</g>
</svg>
